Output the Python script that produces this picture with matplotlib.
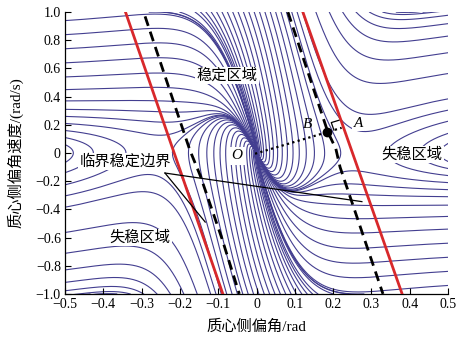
import numpy as np
import matplotlib
matplotlib.use("Agg")
import matplotlib.pyplot as plt

# ---------------- data ----------------
x_range = [-0.5, 0.5]
y_range = [-1.0, 1.0]
x_ticks = [-0.5, -0.4, -0.3, -0.2, -0.1, 0.0, 0.1, 0.2, 0.3, 0.4, 0.5]
y_ticks = [-1.0, -0.8, -0.6, -0.4, -0.2, 0.0, 0.2, 0.4, 0.6, 0.8, 1.0]

# critical stability boundaries (red, double-line method)
red_left_x = [-0.342, -0.088]
red_left_y = [1.0, -1.0]
red_right_x = [0.121, 0.380]
red_right_y = [1.0, -1.0]

# dashed boundaries
dash_left_x = [-0.291, -0.205, -0.174, -0.147, -0.090, -0.045]
dash_left_y = [0.97, 0.27, 0.02, -0.16, -0.61, -1.0]
dash_right_x = [0.082, 0.186, 0.207, 0.218, 0.330]
dash_right_y = [1.0, 0.15, 0.03, -0.10, -1.0]

point_O = (-0.004, -0.005)
point_B = (0.184, 0.148)

# seed positions where trajectories enter the window
seed_left_y = [0.06, 0.11, 0.16, 0.21, 0.26, 0.31, 0.37, 0.45, 0.54, 0.64, 0.74, 0.84, 0.94]
seed_right_y = [-v for v in seed_left_y]
seed_top_x = ([-0.28, -0.24, -0.20]
              + list(np.round(np.arange(-0.16, 0.12, 0.014), 3))
              + [0.12, 0.155, 0.19, 0.225, 0.26, 0.295, 0.33, 0.365, 0.40, 0.435])
seed_bottom_x = [-v for v in seed_top_x]

# vehicle model parameters (2-DOF, magic-formula tyres)
mass, Iz, la, lb = 1500.0, 2500.0, 1.2, 1.5
mu, speed, grav = 0.8, 11.2, 9.81
B_tire, C_tire, slip_sat = 5.0, 1.9, 0.35

L = la + lb
Df = mu * mass * grav * lb / L
Dr = mu * mass * grav * la / L


def tyre(alpha):
    ac = slip_sat * np.tanh(alpha / slip_sat)
    return np.sin(C_tire * np.arctan(B_tire * ac))


def rhs(beta, r):
    af = beta + la * r / speed
    ar = beta - lb * r / speed
    Ff = -Df * tyre(af)
    Fr = -Dr * tyre(ar)
    db = (Ff + Fr) / (mass * speed) - r
    dr = (la * Ff - lb * Fr) / Iz
    return db, dr


def r_from_v(beta, v):
    lo = np.full_like(beta, -8.0)
    hi = np.full_like(beta, 8.0)
    for _ in range(60):
        mid = 0.5 * (lo + hi)
        db, _ = rhs(beta, mid)
        up = db > v
        lo = np.where(up, mid, lo)
        hi = np.where(up, hi, mid)
    return 0.5 * (lo + hi)


sb = np.concatenate([np.full(len(seed_left_y), -0.5), np.full(len(seed_right_y), 0.5),
                     np.array(seed_top_x), np.array(seed_bottom_x)])
sv = np.concatenate([np.array(seed_left_y), np.array(seed_right_y),
                     np.full(len(seed_top_x), 1.0), np.full(len(seed_bottom_x), -1.0)])
beta = sb.copy()
r = r_from_v(beta, sv)

dt = 0.002
nsteps = 3000
hist_b = np.full((nsteps + 1, beta.size), np.nan)
hist_v = np.full((nsteps + 1, beta.size), np.nan)
alive = np.ones(beta.size, bool)
hist_b[0] = sb
hist_v[0] = sv
for i in range(nsteps):
    k1b, k1r = rhs(beta, r)
    k2b, k2r = rhs(beta + 0.5 * dt * k1b, r + 0.5 * dt * k1r)
    k3b, k3r = rhs(beta + 0.5 * dt * k2b, r + 0.5 * dt * k2r)
    k4b, k4r = rhs(beta + dt * k3b, r + dt * k3r)
    beta = beta + dt / 6 * (k1b + 2 * k2b + 2 * k3b + k4b)
    r = r + dt / 6 * (k1r + 2 * k2r + 2 * k3r + k4r)
    v, _ = rhs(beta, r)
    out = (np.abs(beta) > 0.53) | (np.abs(v) > 1.06)
    hist_b[i + 1] = np.where(alive, beta, np.nan)
    hist_v[i + 1] = np.where(alive, v, np.nan)
    alive &= ~out

# ---------------- plotting ----------------
fig = plt.figure(figsize=(4.61, 3.47), dpi=100)
ax = fig.add_axes([0.141, 0.153, 0.831, 0.812])
traj_color = "#433e90"
for j in range(beta.size):
    ax.plot(hist_b[:, j], hist_v[:, j], color=traj_color, lw=0.8, zorder=1)

ax.plot(red_left_x, red_left_y, color="#d8282b", lw=2.0, zorder=3)
ax.plot(red_right_x, red_right_y, color="#d8282b", lw=2.0, zorder=3)
ax.plot(dash_left_x, dash_left_y, color="black", lw=2.0, dashes=(3.6, 2.2), zorder=3)
ax.plot(dash_right_x, dash_right_y, color="black", lw=2.0, dashes=(3.6, 2.2), zorder=3)

# dotted perpendicular O -> A through B
t = (0.2505 + 0.1295 * point_O[1]) / ((point_B[0] - point_O[0]) + 0.1295 * (point_B[1] - point_O[1]))
foot = (point_O[0] + t * (point_B[0] - point_O[0]), point_O[1] + t * (point_B[1] - point_O[1]))
ax.plot([point_O[0], foot[0]], [point_O[1], foot[1]], color="black", lw=1.6, ls=(0, (1, 1.5)), zorder=4)
ax.plot([point_B[0]], [point_B[1]], "o", color="black", ms=6, zorder=5)

sx, sy = 383.0, 141.0
dvec = np.array([(foot[0] - point_O[0]) * sx, (foot[1] - point_O[1]) * sy])
dvec /= np.linalg.norm(dvec)
rvec = np.array([(0.121 - 0.380) * sx, 2.0 * sy])
rvec /= np.linalg.norm(rvec)
s = 8.0
q1 = np.array(foot) - s * dvec / [sx, sy]
q2 = q1 + s * rvec / [sx, sy]
q3 = np.array(foot) + s * rvec / [sx, sy]
ax.plot([q1[0], q2[0], q3[0]], [q1[1], q2[1], q3[1]], color="black", lw=0.9, zorder=4)

# annotation lines for the boundary label
ax.plot([-0.239, 0.275], [-0.142, -0.345], color="black", lw=0.9, zorder=4)
ax.plot([-0.239, -0.134], [-0.142, -0.49], color="black", lw=0.9, zorder=4)

cjk = ["Liberation Serif", "Noto Sans CJK SC"]
bbox = dict(facecolor="white", edgecolor="none", pad=1.0)
ax.text(-0.077, 0.55, "稳定区域", family=cjk, fontsize=11, ha="center", va="center", bbox=bbox, zorder=6)
ax.text(0.406, -0.01, "失稳区域", family=cjk, fontsize=11, ha="center", va="center", bbox=bbox, zorder=6)
ax.text(-0.304, -0.60, "失稳区域", family=cjk, fontsize=11, ha="center", va="center", bbox=bbox, zorder=6)
ax.text(-0.343, -0.06, "临界稳定边界", family=cjk, fontsize=11, ha="center", va="center", bbox=bbox, zorder=6)
ax.text(-0.051, -0.02, "O", family="Liberation Serif", style="italic", fontsize=11, ha="center", va="center",
        bbox=dict(facecolor="white", edgecolor="none", pad=2.0), zorder=6)
ax.text(0.132, 0.20, "B", family="Liberation Serif", style="italic", fontsize=11, ha="center", va="center", zorder=6)
ax.text(0.265, 0.213, "A", family="Liberation Serif", style="italic", fontsize=11, ha="center", va="center",
        bbox=dict(facecolor="white", edgecolor="none", pad=1.0), zorder=6)

ax.set_xlim(x_range)
ax.set_ylim(y_range)
ax.set_xticks(x_ticks)
ax.set_yticks(y_ticks)
ax.set_xticklabels([f"{v:.1f}".replace("-", "\u2212") if abs(v) > 1e-9 else "0" for v in x_ticks],
                   family="Liberation Serif", fontsize=10)
ax.set_yticklabels([f"{v:.1f}".replace("-", "\u2212") if abs(v) > 1e-9 else "0" for v in y_ticks],
                   family="Liberation Serif", fontsize=10)
ax.tick_params(direction="in", length=4, width=0.8, pad=3)
for side in ["top", "right"]:
    ax.spines[side].set_visible(False)
ax.spines["left"].set_linewidth(0.9)
ax.spines["bottom"].set_linewidth(0.9)
ax.set_xlabel("质心侧偏角/rad", family=cjk, fontsize=11, labelpad=6)
ax.set_ylabel("质心侧偏角速度/(rad/s)", family=cjk, fontsize=11, labelpad=9)

fig.savefig("out.png", dpi=100)
